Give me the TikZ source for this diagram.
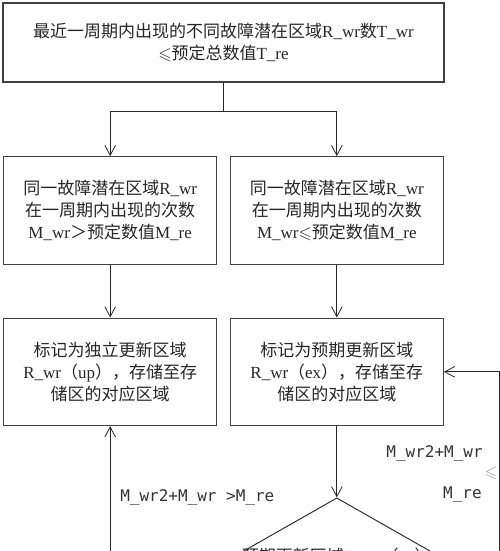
\documentclass[tikz,border=0pt]{standalone}
\usepackage{amssymb}
\usepackage{fontspec}
\setmainfont{Liberation Serif}
\newfontfamily\cjk{Noto Sans CJK SC}
\newfontfamily\cadfont{DejaVu Sans Mono}
\newcommand\zh[1]{{\cjk #1}}
\usetikzlibrary{arrows.meta,shapes.geometric}

\begin{document}
\begin{tikzpicture}[x=0.75pt, y=-0.75pt,
  box/.style = {shape=rectangle, draw=black!75, line width=0.9pt,
    align=center, text=black!85, inner sep=0pt,
    minimum width=159.75pt, minimum height=80.6pt,
    font=\fontsize{12.75pt}{16.5pt}\selectfont},
  decision/.style = {shape=diamond, draw=black!85, line width=0.7pt,
    minimum width=237pt, minimum height=135pt, inner sep=0pt},
  cond/.style = {font=\cadfont\fontsize{12pt}{14pt}\selectfont,
    text=black!80, inner sep=0pt},
  flow/.style = {draw=black!85, line width=0.6pt,
    -{Straight Barb[length=7.5pt,width=8pt]}},
  edge from parent/.style = {draw, flow},
  level 1/.style = {sibling distance=170pt, level distance=126pt,
    edge from parent path={(\tikzparentnode.south) -- +(0,-21.75pt)
      -| (\tikzchildnode.north)}},
  level 2/.style = {level distance=121pt,
    edge from parent path={(\tikzparentnode.south) -- (\tikzchildnode.north)}},
  level 3/.style = {level distance=162pt}]
  \useasboundingbox (0,0) rectangle (500,551);
  \clip (0,0) rectangle (500,551);

  \node[box, minimum width=330.75pt, minimum height=59.25pt] (top) at (223.5,42.5)
    {\zh{最近一周期内出现的不同故障潜在区域}R\_wr\zh{数}T\_wr\\
     $\leqslant$\zh{预定总数值}T\_re}
    child { node[box] (gtbox)
      {\zh{同一故障潜在区域}R\_wr\\\zh{在一周期内出现的次数}\\M\_wr\zh{＞预定数值}M\_re}
      child { node[box] (up)
        {\zh{标记为独立更新区域}\\R\_wr\zh{（}up\zh{），存储至存}\\\zh{储区的对应区域}}}}
    child { node[box] (lebox)
      {\zh{同一故障潜在区域}R\_wr\\\zh{在一周期内出现的次数}\\M\_wr$\leqslant$\zh{预定数值}M\_re}
      child { node[box] (ex)
        {\zh{标记为预期更新区域}\\R\_wr\zh{（}ex\zh{），存储至存}\\\zh{储区的对应区域}}
        child { node[decision] (judge) {}}}};

  \node[font=\fontsize{12.75pt}{16.5pt}\selectfont, text=black!85]
    (judgetxt) at ([yshift=-44pt]judge.north)
    {\zh{预期更新区域}R\_wr\zh{（}ex\zh{）}};

  \node[cond, anchor=west] (gt) at (120,497) {M\_wr2+M\_wr >M\_re};
  \node[cond, anchor=east] (sum) at (483,453) {M\_wr2+M\_wr};
  \node[cond, text=black!40] (leq) at (491,473) {$\leqslant$};
  \node[cond, anchor=east] (re) at (482,495) {M\_re};

  \coordinate (turn) at ([xshift=41.25pt]ex.east);
  \draw[flow] (judge.west) -| (up.south);
  \draw[flow] (judge.east) -| (turn) -- (ex.east);
\end{tikzpicture}
\end{document}
